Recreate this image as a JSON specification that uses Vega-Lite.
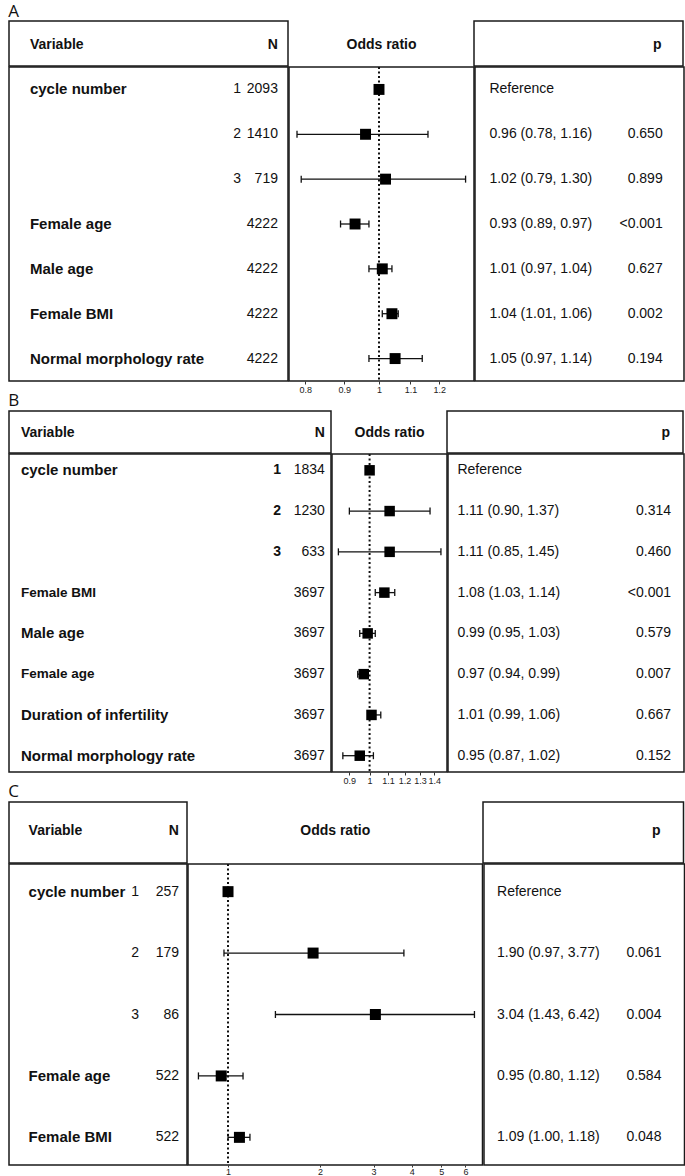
{
  "$schema": "https://vega.github.io/schema/vega-lite/v6.json",
  "padding": {"left": 8, "top": 3, "right": 2, "bottom": 0},
  "background": "white",
  "config": {
    "view": {"stroke": "#1a1a1a", "strokeWidth": 1.5},
    "text": {"font": "Liberation Sans", "fontSize": 14, "color": "#111"},
    "axis": {"labelFont": "Liberation Sans"}
  },
  "datasets": {
    "A": [
      {"row": 1, "var": "cycle number", "lvl": "1", "n": "2093", "or": 1, "lo": null, "hi": null, "est": "Reference", "p": ""},
      {"row": 2, "var": "", "lvl": "2", "n": "1410", "or": 0.96, "lo": 0.78, "hi": 1.16, "est": "0.96 (0.78, 1.16)", "p": "0.650"},
      {"row": 3, "var": "", "lvl": "3", "n": "719", "or": 1.02, "lo": 0.79, "hi": 1.30, "est": "1.02 (0.79, 1.30)", "p": "0.899"},
      {"row": 4, "var": "Female age", "lvl": "", "n": "4222", "or": 0.93, "lo": 0.89, "hi": 0.97, "est": "0.93 (0.89, 0.97)", "p": "<0.001"},
      {"row": 5, "var": "Male age", "lvl": "", "n": "4222", "or": 1.01, "lo": 0.97, "hi": 1.04, "est": "1.01 (0.97, 1.04)", "p": "0.627"},
      {"row": 6, "var": "Female BMI", "lvl": "", "n": "4222", "or": 1.04, "lo": 1.01, "hi": 1.06, "est": "1.04 (1.01, 1.06)", "p": "0.002"},
      {"row": 7, "var": "Normal morphology rate", "lvl": "", "n": "4222", "or": 1.05, "lo": 0.97, "hi": 1.14, "est": "1.05 (0.97, 1.14)", "p": "0.194"}
    ],
    "B": [
      {"row": 1, "var": "cycle number", "lvl": "1", "n": "1834", "or": 1, "lo": null, "hi": null, "est": "Reference", "p": ""},
      {"row": 2, "var": "", "lvl": "2", "n": "1230", "or": 1.11, "lo": 0.90, "hi": 1.37, "est": "1.11 (0.90, 1.37)", "p": "0.314"},
      {"row": 3, "var": "", "lvl": "3", "n": "633", "or": 1.11, "lo": 0.85, "hi": 1.45, "est": "1.11 (0.85, 1.45)", "p": "0.460"},
      {"row": 4, "var": "Female BMI", "lvl": "", "n": "3697", "or": 1.08, "lo": 1.03, "hi": 1.14, "est": "1.08 (1.03, 1.14)", "p": "<0.001"},
      {"row": 5, "var": "Male age", "lvl": "", "n": "3697", "or": 0.99, "lo": 0.95, "hi": 1.03, "est": "0.99 (0.95, 1.03)", "p": "0.579"},
      {"row": 6, "var": "Female age", "lvl": "", "n": "3697", "or": 0.97, "lo": 0.94, "hi": 0.99, "est": "0.97 (0.94, 0.99)", "p": "0.007"},
      {"row": 7, "var": "Duration of infertility", "lvl": "", "n": "3697", "or": 1.01, "lo": 0.99, "hi": 1.06, "est": "1.01 (0.99, 1.06)", "p": "0.667"},
      {"row": 8, "var": "Normal morphology rate", "lvl": "", "n": "3697", "or": 0.95, "lo": 0.87, "hi": 1.02, "est": "0.95 (0.87, 1.02)", "p": "0.152"}
    ],
    "C": [
      {"row": 1, "var": "cycle number", "lvl": "1", "n": "257", "or": 1, "lo": null, "hi": null, "est": "Reference", "p": ""},
      {"row": 2, "var": "", "lvl": "2", "n": "179", "or": 1.90, "lo": 0.97, "hi": 3.77, "est": "1.90 (0.97, 3.77)", "p": "0.061"},
      {"row": 3, "var": "", "lvl": "3", "n": "86", "or": 3.04, "lo": 1.43, "hi": 6.42, "est": "3.04 (1.43, 6.42)", "p": "0.004"},
      {"row": 4, "var": "Female age", "lvl": "", "n": "522", "or": 0.95, "lo": 0.80, "hi": 1.12, "est": "0.95 (0.80, 1.12)", "p": "0.584"},
      {"row": 5, "var": "Female BMI", "lvl": "", "n": "522", "or": 1.09, "lo": 1.00, "hi": 1.18, "est": "1.09 (1.00, 1.18)", "p": "0.048"}
    ]
  },
  "spacing": -3,
  "vconcat": [
    {
      "title": {"text": "A", "anchor": "start", "fontSize": 17, "fontWeight": "normal", "font": "Open Sans", "color": "#111", "offset": -1},
      "spacing": -3,
      "vconcat": [
        {"spacing": -3, "hconcat": [
          {"width": 279, "height": 45, "data": {"values": [{"h1": "Variable", "h2": "N"}]}, "layer": [
            {"mark": {"type": "text", "align": "left", "fontWeight": "bold", "dy": 1.5}, "encoding": {"text": {"field": "h1"}, "x": {"datum": 7.5, "type": "quantitative", "scale": {"domain": [0, 100]}, "axis": null}}},
            {"mark": {"type": "text", "align": "right", "fontWeight": "bold", "dy": 1.5}, "encoding": {"text": {"field": "h2"}, "x": {"datum": 96.4, "type": "quantitative", "axis": null}}}
          ]},
          {"width": 185, "height": 45, "data": {"values": [{"h": "Odds ratio"}]}, "mark": {"type": "text", "fontWeight": "bold", "dy": 1.5}, "encoding": {"text": {"field": "h"}}},
          {"width": 209, "height": 45, "data": {"values": [{"h": "p"}]}, "mark": {"type": "text", "align": "right", "fontWeight": "bold", "dy": 1.5}, "encoding": {"text": {"field": "h"}, "x": {"datum": 89.8, "type": "quantitative", "scale": {"domain": [0, 100]}, "axis": null}}}
        ]},
        {"spacing": -3, "hconcat": [
          {"width": 279, "height": 314, "data": {"name": "A"}, "layer": [
            {"mark": {"type": "text", "align": "left", "fontWeight": "bold", "fontSize": 15}, "encoding": {"text": {"field": "var"}, "x": {"datum": 7.5, "type": "quantitative", "scale": {"domain": [0, 100]}, "axis": null}, "y": {"field": "row", "type": "ordinal", "axis": null, "scale": {"type": "point", "padding": 0.5}}}},
            {"mark": {"type": "text", "align": "right"}, "encoding": {"text": {"field": "lvl"}, "x": {"datum": 83.2, "type": "quantitative", "axis": null}, "y": {"field": "row", "type": "ordinal", "axis": null, "scale": {"type": "point", "padding": 0.5}}}},
            {"mark": {"type": "text", "align": "right"}, "encoding": {"text": {"field": "n"}, "x": {"datum": 96.4, "type": "quantitative", "axis": null}, "y": {"field": "row", "type": "ordinal", "axis": null, "scale": {"type": "point", "padding": 0.5}}}}
          ]},
          {"width": 185, "height": 314, "layer": [
            {"data": {"values": [{"ref": 1}]}, "mark": {"type": "rule", "strokeDash": [2, 2.5], "strokeWidth": 2, "color": "#111"}, "encoding": {"x": {"field": "ref", "type": "quantitative", "scale": {"type": "log", "domain": [0.7613, 1.3336], "nice": false}, "axis": {"values": [0.8, 0.9, 1, 1.1, 1.2], "format": "~g", "title": null, "domain": false, "grid": false, "tickSize": 3, "tickColor": "#333", "labelFontSize": 9, "labelColor": "#222", "labelPadding": 1, "labelFlush": false, "labelOverlap": false}}}},
            {"data": {"name": "A"}, "transform": [{"filter": "datum.lo != null"}], "mark": {"type": "rule", "strokeWidth": 1.3, "color": "#111"}, "encoding": {"x": {"field": "lo", "type": "quantitative"}, "x2": {"field": "hi"}, "y": {"field": "row", "type": "ordinal", "axis": null, "scale": {"type": "point", "padding": 0.5}}}},
            {"data": {"name": "A"}, "transform": [{"filter": "datum.lo != null"}], "mark": {"type": "tick", "orient": "vertical", "size": 7, "thickness": 1.3, "color": "#111", "opacity": 1}, "encoding": {"x": {"field": "lo", "type": "quantitative"}, "y": {"field": "row", "type": "ordinal", "axis": null, "scale": {"type": "point", "padding": 0.5}}}},
            {"data": {"name": "A"}, "transform": [{"filter": "datum.hi != null"}], "mark": {"type": "tick", "orient": "vertical", "size": 7, "thickness": 1.3, "color": "#111", "opacity": 1}, "encoding": {"x": {"field": "hi", "type": "quantitative"}, "y": {"field": "row", "type": "ordinal", "axis": null, "scale": {"type": "point", "padding": 0.5}}}},
            {"data": {"name": "A"}, "mark": {"type": "square", "size": 120, "filled": true, "color": "#000", "opacity": 1}, "encoding": {"x": {"field": "or", "type": "quantitative"}, "y": {"field": "row", "type": "ordinal", "axis": null, "scale": {"type": "point", "padding": 0.5}}}}
          ]},
          {"width": 209, "height": 314, "data": {"name": "A"}, "layer": [
            {"mark": {"type": "text", "align": "left"}, "encoding": {"text": {"field": "est"}, "x": {"datum": 6.9, "type": "quantitative", "scale": {"domain": [0, 100]}, "axis": null}, "y": {"field": "row", "type": "ordinal", "axis": null, "scale": {"type": "point", "padding": 0.5}}}},
            {"mark": {"type": "text", "align": "right"}, "encoding": {"text": {"field": "p"}, "x": {"datum": 89.8, "type": "quantitative", "axis": null}, "y": {"field": "row", "type": "ordinal", "axis": null, "scale": {"type": "point", "padding": 0.5}}}}
          ]}
        ]}
      ]
    },
    {
      "title": {"text": "B", "anchor": "start", "fontSize": 17, "fontWeight": "normal", "font": "Open Sans", "color": "#111", "offset": 0},
      "spacing": -3,
      "vconcat": [
        {"spacing": -3, "hconcat": [
          {"width": 322, "height": 42, "data": {"values": [{"h1": "Variable", "h2": "N"}]}, "layer": [
            {"mark": {"type": "text", "align": "left", "fontWeight": "bold", "dy": 1}, "encoding": {"text": {"field": "h1"}, "x": {"datum": 3.7, "type": "quantitative", "scale": {"domain": [0, 100]}, "axis": null}}},
            {"mark": {"type": "text", "align": "right", "fontWeight": "bold", "dy": 1}, "encoding": {"text": {"field": "h2"}, "x": {"datum": 98.1, "type": "quantitative", "axis": null}}}
          ]},
          {"width": 115, "height": 42, "data": {"values": [{"h": "Odds ratio"}]}, "mark": {"type": "text", "fontWeight": "bold", "dy": 1}, "encoding": {"text": {"field": "h"}}},
          {"width": 236, "height": 42, "data": {"values": [{"h": "p"}]}, "mark": {"type": "text", "align": "right", "fontWeight": "bold", "dy": 1}, "encoding": {"text": {"field": "h"}, "x": {"datum": 94.5, "type": "quantitative", "scale": {"domain": [0, 100]}, "axis": null}}}
        ]},
        {"spacing": -3, "hconcat": [
          {"width": 322, "height": 318, "data": {"name": "B"}, "layer": [
            {"mark": {"type": "text", "align": "left", "fontWeight": "bold"}, "encoding": {"text": {"field": "var"}, "size": {"condition": {"test": "datum.row == 4 || datum.row == 6", "value": 13.5}, "value": 15}, "x": {"datum": 3.7, "type": "quantitative", "scale": {"domain": [0, 100]}, "axis": null}, "y": {"field": "row", "type": "ordinal", "axis": null, "scale": {"type": "point", "padding": 0.4}}}},
            {"mark": {"type": "text", "align": "right", "fontWeight": "bold"}, "encoding": {"text": {"field": "lvl"}, "x": {"datum": 84.5, "type": "quantitative", "axis": null}, "y": {"field": "row", "type": "ordinal", "axis": null, "scale": {"type": "point", "padding": 0.4}}}},
            {"mark": {"type": "text", "align": "right"}, "encoding": {"text": {"field": "n"}, "x": {"datum": 98.1, "type": "quantitative", "axis": null}, "y": {"field": "row", "type": "ordinal", "axis": null, "scale": {"type": "point", "padding": 0.4}}}}
          ]},
          {"width": 115, "height": 318, "layer": [
            {"data": {"values": [{"ref": 1}]}, "mark": {"type": "rule", "strokeDash": [2, 2.5], "strokeWidth": 2, "color": "#111"}, "encoding": {"x": {"field": "ref", "type": "quantitative", "scale": {"type": "log", "domain": [0.8222, 1.4965], "nice": false}, "axis": {"values": [0.9, 1, 1.1, 1.2, 1.3, 1.4], "format": "~g", "title": null, "domain": false, "grid": false, "tickSize": 3, "tickColor": "#333", "labelFontSize": 9, "labelColor": "#222", "labelPadding": 1, "labelFlush": false, "labelOverlap": false}}}},
            {"data": {"name": "B"}, "transform": [{"filter": "datum.lo != null"}], "mark": {"type": "rule", "strokeWidth": 1.3, "color": "#111"}, "encoding": {"x": {"field": "lo", "type": "quantitative"}, "x2": {"field": "hi"}, "y": {"field": "row", "type": "ordinal", "axis": null, "scale": {"type": "point", "padding": 0.4}}}},
            {"data": {"name": "B"}, "transform": [{"filter": "datum.lo != null"}], "mark": {"type": "tick", "orient": "vertical", "size": 7, "thickness": 1.3, "color": "#111", "opacity": 1}, "encoding": {"x": {"field": "lo", "type": "quantitative"}, "y": {"field": "row", "type": "ordinal", "axis": null, "scale": {"type": "point", "padding": 0.4}}}},
            {"data": {"name": "B"}, "transform": [{"filter": "datum.hi != null"}], "mark": {"type": "tick", "orient": "vertical", "size": 7, "thickness": 1.3, "color": "#111", "opacity": 1}, "encoding": {"x": {"field": "hi", "type": "quantitative"}, "y": {"field": "row", "type": "ordinal", "axis": null, "scale": {"type": "point", "padding": 0.4}}}},
            {"data": {"name": "B"}, "mark": {"type": "square", "size": 110, "filled": true, "color": "#000", "opacity": 1}, "encoding": {"x": {"field": "or", "type": "quantitative"}, "y": {"field": "row", "type": "ordinal", "axis": null, "scale": {"type": "point", "padding": 0.4}}}}
          ]},
          {"width": 236, "height": 318, "data": {"name": "B"}, "layer": [
            {"mark": {"type": "text", "align": "left"}, "encoding": {"text": {"field": "est"}, "x": {"datum": 4.0, "type": "quantitative", "scale": {"domain": [0, 100]}, "axis": null}, "y": {"field": "row", "type": "ordinal", "axis": null, "scale": {"type": "point", "padding": 0.4}}}},
            {"mark": {"type": "text", "align": "right"}, "encoding": {"text": {"field": "p"}, "x": {"datum": 94.5, "type": "quantitative", "axis": null}, "y": {"field": "row", "type": "ordinal", "axis": null, "scale": {"type": "point", "padding": 0.4}}}}
          ]}
        ]}
      ]
    },
    {
      "title": {"text": "C", "anchor": "start", "fontSize": 17, "fontWeight": "normal", "font": "Open Sans", "color": "#111", "offset": 0},
      "spacing": -3,
      "vconcat": [
        {"spacing": -3, "hconcat": [
          {"width": 178, "height": 61, "data": {"values": [{"h1": "Variable", "h2": "N"}]}, "layer": [
            {"mark": {"type": "text", "align": "left", "fontWeight": "bold", "dy": -1.5}, "encoding": {"text": {"field": "h1"}, "x": {"datum": 11.0, "type": "quantitative", "scale": {"domain": [0, 100]}, "axis": null}}},
            {"mark": {"type": "text", "align": "right", "fontWeight": "bold", "dy": -1.5}, "encoding": {"text": {"field": "h2"}, "x": {"datum": 95.5, "type": "quantitative", "axis": null}}}
          ]},
          {"width": 294.5, "height": 61, "data": {"values": [{"h": "Odds ratio"}]}, "mark": {"type": "text", "fontWeight": "bold", "dy": -1.5}, "encoding": {"text": {"field": "h"}}},
          {"width": 200.5, "height": 61, "data": {"values": [{"h": "p"}]}, "mark": {"type": "text", "align": "right", "fontWeight": "bold", "dy": -1.5}, "encoding": {"text": {"field": "h"}, "x": {"datum": 88.5, "type": "quantitative", "scale": {"domain": [0, 100]}, "axis": null}}}
        ]},
        {"spacing": -3, "hconcat": [
          {"width": 178, "height": 301, "data": {"name": "C"}, "layer": [
            {"mark": {"type": "text", "align": "left", "fontWeight": "bold", "fontSize": 15}, "encoding": {"text": {"field": "var"}, "x": {"datum": 11.0, "type": "quantitative", "scale": {"domain": [0, 100]}, "axis": null}, "y": {"field": "row", "type": "ordinal", "axis": null, "scale": {"type": "point", "padding": 0.45}}}},
            {"mark": {"type": "text", "align": "right"}, "encoding": {"text": {"field": "lvl"}, "x": {"datum": 73.0, "type": "quantitative", "axis": null}, "y": {"field": "row", "type": "ordinal", "axis": null, "scale": {"type": "point", "padding": 0.45}}}},
            {"mark": {"type": "text", "align": "right"}, "encoding": {"text": {"field": "n"}, "x": {"datum": 95.5, "type": "quantitative", "axis": null}, "y": {"field": "row", "type": "ordinal", "axis": null, "scale": {"type": "point", "padding": 0.45}}}}
          ]},
          {"width": 294.5, "height": 301, "layer": [
            {"data": {"values": [{"ref": 1}]}, "mark": {"type": "rule", "strokeDash": [2, 2.5], "strokeWidth": 2, "color": "#111"}, "encoding": {"x": {"field": "ref", "type": "quantitative", "scale": {"type": "log", "domain": [0.7394, 6.822], "nice": false}, "axis": {"values": [1, 2, 3, 4, 5, 6], "format": "~g", "title": null, "domain": false, "grid": false, "tickSize": 2, "tickColor": "#333", "labelFontSize": 9, "labelColor": "#222", "labelPadding": 0, "labelFlush": false, "labelOverlap": false}}}},
            {"data": {"name": "C"}, "transform": [{"filter": "datum.lo != null"}], "mark": {"type": "rule", "strokeWidth": 1.3, "color": "#111"}, "encoding": {"x": {"field": "lo", "type": "quantitative"}, "x2": {"field": "hi"}, "y": {"field": "row", "type": "ordinal", "axis": null, "scale": {"type": "point", "padding": 0.45}}}},
            {"data": {"name": "C"}, "transform": [{"filter": "datum.lo != null"}], "mark": {"type": "tick", "orient": "vertical", "size": 7, "thickness": 1.3, "color": "#111", "opacity": 1}, "encoding": {"x": {"field": "lo", "type": "quantitative"}, "y": {"field": "row", "type": "ordinal", "axis": null, "scale": {"type": "point", "padding": 0.45}}}},
            {"data": {"name": "C"}, "transform": [{"filter": "datum.hi != null"}], "mark": {"type": "tick", "orient": "vertical", "size": 7, "thickness": 1.3, "color": "#111", "opacity": 1}, "encoding": {"x": {"field": "hi", "type": "quantitative"}, "y": {"field": "row", "type": "ordinal", "axis": null, "scale": {"type": "point", "padding": 0.45}}}},
            {"data": {"name": "C"}, "mark": {"type": "square", "size": 121, "filled": true, "color": "#000", "opacity": 1}, "encoding": {"x": {"field": "or", "type": "quantitative"}, "y": {"field": "row", "type": "ordinal", "axis": null, "scale": {"type": "point", "padding": 0.45}}}}
          ]},
          {"width": 200.5, "height": 301, "data": {"name": "C"}, "layer": [
            {"mark": {"type": "text", "align": "left"}, "encoding": {"text": {"field": "est"}, "x": {"datum": 6.5, "type": "quantitative", "scale": {"domain": [0, 100]}, "axis": null}, "y": {"field": "row", "type": "ordinal", "axis": null, "scale": {"type": "point", "padding": 0.45}}}},
            {"mark": {"type": "text", "align": "right"}, "encoding": {"text": {"field": "p"}, "x": {"datum": 88.5, "type": "quantitative", "axis": null}, "y": {"field": "row", "type": "ordinal", "axis": null, "scale": {"type": "point", "padding": 0.45}}}}
          ]}
        ]}
      ]
    }
  ]
}
